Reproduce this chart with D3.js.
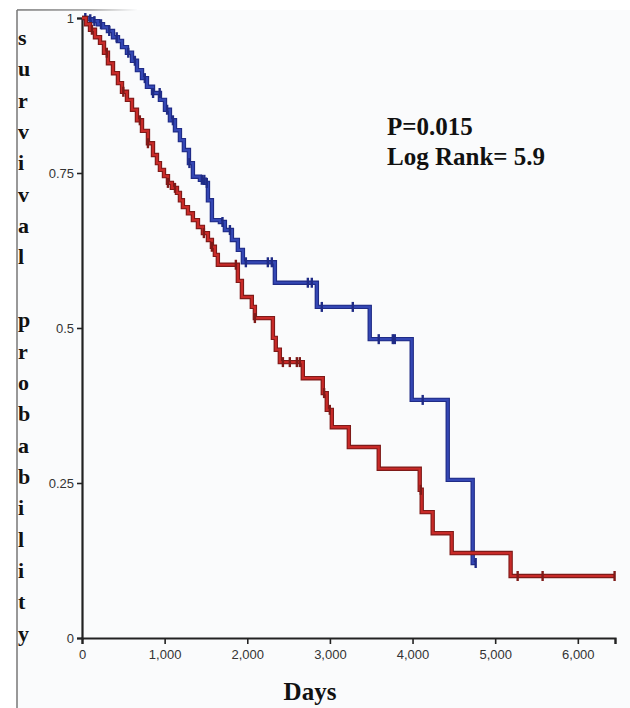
<!DOCTYPE html>
<html>
<head>
<meta charset="utf-8">
<script src="https://cdn.jsdelivr.net/npm/d3@7"></script>
<style>
  body { margin: 0; background: #ffffff; }
  svg { display: block; }
</style>
</head>
<body>
<script>
// --- data ---
// steps: [day, survival] after each drop
const blueDays = [0, 73, 133, 193, 254, 314, 375, 435, 484, 544, 605, 665, 726, 786, 859, 943, 1004, 1064, 1125, 1185, 1233, 1294, 1342, 1427, 1487, 1524, 1572, 1669, 1729, 1814, 1886, 1947, 2334, 2842, 3482, 3990, 4426, 4728];
const blueSurv = [1, 0.998, 0.995, 0.990, 0.985, 0.979, 0.969, 0.963, 0.953, 0.944, 0.931, 0.916, 0.903, 0.889, 0.879, 0.868, 0.852, 0.835, 0.819, 0.803, 0.787, 0.766, 0.744, 0.739, 0.734, 0.706, 0.674, 0.671, 0.658, 0.642, 0.626, 0.606, 0.573, 0.534, 0.482, 0.384, 0.255, 0.121];
const blueEnd = 4765;
const blueCensor = [40, 100, 150, 230, 330, 420, 560, 640, 760, 860, 940, 1030, 1100, 1300, 1450, 1480, 1510, 1700, 1790, 1983, 2249, 2297, 2733, 2781, 2902, 3277, 3591, 3761, 3785, 4123, 4764];

const redDays = [0, 48, 97, 157, 218, 266, 314, 375, 435, 484, 544, 605, 665, 726, 798, 859, 907, 943, 992, 1040, 1088, 1149, 1185, 1221, 1282, 1342, 1403, 1463, 1524, 1572, 1608, 1644, 1886, 1935, 2055, 2092, 2310, 2345, 2394, 2672, 2914, 2962, 3023, 3229, 3591, 4087, 4111, 4244, 4474, 5187];
const redSurv = [1, 0.990, 0.981, 0.969, 0.960, 0.944, 0.927, 0.911, 0.895, 0.881, 0.868, 0.852, 0.835, 0.818, 0.798, 0.779, 0.766, 0.755, 0.745, 0.734, 0.726, 0.718, 0.706, 0.695, 0.685, 0.674, 0.663, 0.653, 0.642, 0.631, 0.618, 0.602, 0.576, 0.550, 0.534, 0.516, 0.484, 0.465, 0.445, 0.419, 0.395, 0.368, 0.340, 0.308, 0.273, 0.239, 0.203, 0.169, 0.137, 0.100];
const redEnd = 6445;
const redCensor = [120, 300, 500, 700, 798, 1040, 1125, 1475, 1572, 1862, 2092, 2431, 2515, 2600, 2636, 2930, 2999, 4100, 5272, 5574, 6445];

const xTicks = [0, 1000, 2000, 3000, 4000, 5000, 6000];
const yTicks = [0, 0.25, 0.5, 0.75, 1];
const yLabel = "survival probability";
const statLines = ["P=0.015", "Log Rank= 5.9"];

const W = 630, H = 708;

const svg = d3.select("body").append("svg")
  .attr("width", W)
  .attr("height", H);

//page background + frame
const defs = svg.append("defs");
const fade = defs.append("linearGradient").attr("id", "topFade");
fade.append("stop").attr("offset", "0").attr("stop-color", "#777");
fade.append("stop").attr("offset", "0.6").attr("stop-color", "#999");
fade.append("stop").attr("offset", "1").attr("stop-color", "#fafbfc");

svg.append("rect")
  .attr("x", 17).attr("y", 10)
  .attr("width", W - 17).attr("height", H - 10)
  .attr("fill", "#fafbfc");
svg.append("line")
  .attr("x1", 17).attr("x2", 17).attr("y1", 10).attr("y2", H)
  .attr("stroke", "#777").attr("stroke-width", 1.5);
svg.append("rect")
  .attr("x", 17).attr("y", 9.2).attr("width", 120).attr("height", 1.5)
  .attr("fill", "url(#topFade)");

const x = d3.scaleLinear().domain([0, 6450]).range([82, 615]);
const y = d3.scaleLinear().domain([0, 1]).range([638, 18]);

// axes
const xAxis = svg.append("g")
  .attr("transform", `translate(0,${y(0)})`)
  .call(d3.axisBottom(x).tickValues(xTicks.concat([6450])).tickSize(6)
    .tickFormat(d => d === 6450 ? "" : d3.format(",")(d)));

const yAxis = svg.append("g")
  .attr("transform", `translate(${x(0)},0)`)
  .call(d3.axisLeft(y).tickValues(yTicks).tickSize(5)
    .tickFormat(d => d === 0 || d === 1 ? d : d3.format(".2~f")(d)));

[xAxis, yAxis].forEach(g => {
  g.select(".domain").attr("stroke", "#222").attr("stroke-width", 2.2);
  g.selectAll(".tick line").attr("stroke", "#222").attr("stroke-width", 1.6);
  g.selectAll(".tick text")
    .attr("fill", "#333")
    .attr("font-family", "Liberation Sans, Arial, sans-serif")
    .attr("font-size", 13);
});
xAxis.selectAll(".tick text").attr("dy", "0.9em");

// curves
function steps(days, surv, end) {
  const pts = days.map((d, i) => [d, surv[i]]);
  pts.push([end, surv[surv.length - 1]]);
  return pts;
}
function survAt(days, surv, d) {
  let s = surv[0];
  days.forEach((dd, i) => { if (dd <= d) s = surv[i]; });
  return s;
}

const line = d3.line()
  .x(d => x(d[0]))
  .y(d => y(d[1]))
  .curve(d3.curveStepAfter);

const groups = [
  { days: blueDays, surv: blueSurv, end: blueEnd, censor: blueCensor, outer: "#1f2b86", inner: "#3447b4" },
  { days: redDays, surv: redSurv, end: redEnd, censor: redCensor, outer: "#7e1a18", inner: "#c82a28" }
];

groups.forEach(g => {
  const pts = steps(g.days, g.surv, g.end);
  const grp = svg.append("g");
  grp.append("path")
    .attr("d", line(pts))
    .attr("fill", "none")
    .attr("stroke", g.outer)
    .attr("stroke-width", 4.4);
  grp.append("path")
    .attr("d", line(pts))
    .attr("fill", "none")
    .attr("stroke", g.inner)
    .attr("stroke-width", 2.2);
  grp.selectAll("line.cens")
    .data(g.censor)
    .enter()
    .append("line")
    .attr("class", "cens")
    .attr("x1", d => x(d)).attr("x2", d => x(d))
    .attr("y1", d => y(survAt(g.days, g.surv, d)) - 5)
    .attr("y2", d => y(survAt(g.days, g.surv, d)) + 5)
    .attr("stroke", g.outer)
    .attr("stroke-width", 2.4);
});

// vertical y label, one letter per line
svg.append("g").selectAll("text")
  .data(yLabel.split(""))
  .enter()
  .append("text")
  .attr("x", 18)
  .attr("y", (d, i) => 45 + i * 31.35)
  .attr("font-family", "Liberation Serif, Times New Roman, serif")
  .attr("font-weight", "bold")
  .attr("font-size", 22)
  .attr("fill", "#111")
  .text(d => d);

// x label
svg.append("text")
  .attr("x", 310).attr("y", 700)
  .attr("text-anchor", "middle")
  .attr("font-family", "Liberation Serif, Times New Roman, serif")
  .attr("font-weight", "bold")
  .attr("font-size", 25)
  .attr("fill", "#111")
  .text("Days");

// stats
svg.append("g").selectAll("text")
  .data(statLines)
  .enter()
  .append("text")
  .attr("x", 387)
  .attr("y", (d, i) => 135 + i * 30)
  .attr("font-family", "Liberation Serif, Times New Roman, serif")
  .attr("font-weight", "bold")
  .attr("font-size", 25)
  .attr("fill", "#111")
  .text(d => d);
</script>
</body>
</html>
